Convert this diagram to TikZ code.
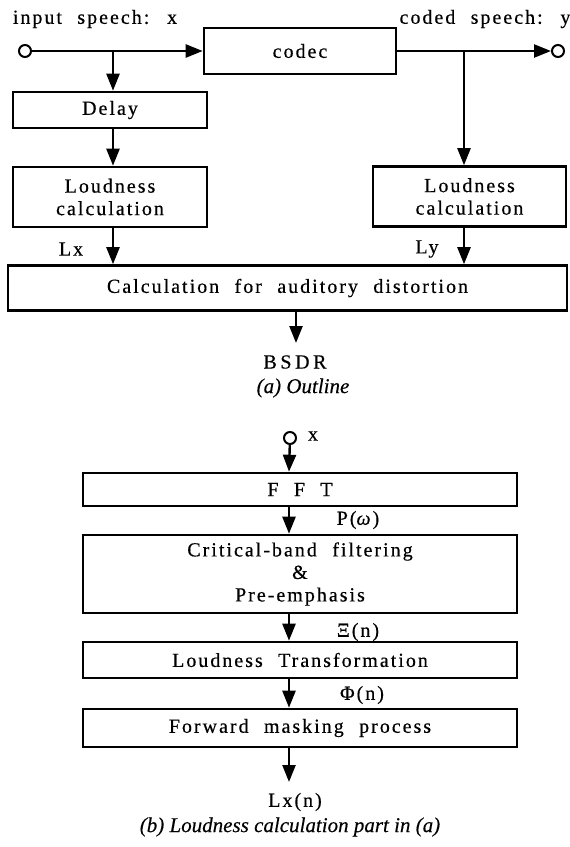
\documentclass[tikz,border=0pt]{standalone}
\usepackage{fontspec}
\setmainfont{Liberation Serif}[LetterSpace=10,WordSpace=2.2,FakeBold=0.4]
\newfontfamily\capfont{Liberation Serif}[FakeBold=0.3]
\usetikzlibrary{arrows.meta}
\begin{document}
\begin{tikzpicture}[x=1pt,y=-1pt,
  every node/.style={font=\fontsize{20}{22.5}\selectfont, inner sep=0pt},
  blk/.style={draw, line width=2.6pt, minimum width=#1, align=center},
  port/.style={draw, circle, line width=2pt, minimum size=12pt, fill=white},
  arr/.style={line width=2.4pt, -{Triangle[length=17pt,width=13pt]}},
  capstyle/.style={font=\capfont\itshape\fontsize{21}{24}\selectfont}]
\useasboundingbox (0,0) rectangle (570,847);
% ---------- (a) Outline ----------
\node[blk=192pt, minimum height=46pt] (codec) at (300,51) {codec};
\node[blk=194pt, minimum height=36pt] (delay) at (110,110) {Delay};
\node[blk=194pt, minimum height=60pt] (lcx) at (110,197) {Loudness\\calculation};
\node[blk=193pt, minimum height=60pt] (lcy) at (469.5,196.5) {Loudness\\calculation};
\node[blk=559pt, minimum height=45pt] (dist) at (287.5,288) {Calculation for auditory distortion};
\node[port] (inC) at (25,51) {};
\node[port] (outC) at (558,51) {};
\node (inlab) at (95,19) {input speech: x};
\node (outlab) at (485,19) {coded speech: y};
\node (lxlab) at (71,249) {Lx};
\node (lylab) at (427,249) {Ly};
\node[font=\addfontfeature{LetterSpace=18}\fontsize{20}{22.5}\selectfont] (bsdr) at (295,362) {BSDR};
\node[capstyle] (capa) at (303,388) {(a) Outline};
\coordinate (j1) at (113,51);
\coordinate (j2) at (464,51);
\coordinate (bsdrend) at (296,343);
\draw[arr] (inC) -- (codec);
\draw[arr] (codec) -- (outC);
\draw[arr] (j1) -- (j1 |- delay.north);
\draw[arr] (j1 |- delay.south) -- (j1 |- lcx.north);
\draw[arr] (j1 |- lcx.south) -- (j1 |- dist.north);
\draw[arr] (j2) -- (j2 |- lcy.north);
\draw[arr] (j2 |- lcy.south) -- (j2 |- dist.north);
\draw[arr] (bsdrend |- dist.south) -- (bsdrend);
% ---------- (b) Loudness calculation ----------
\node[port] (xin) at (290,438) {};
\node (xlab) at (313,436) {x};
\node[blk=434pt, minimum height=33pt] (fft) at (300,489.5) {F F T};
\node[blk=434pt, minimum height=78pt] (cbf) at (300,574) {Critical-band filtering\\\&\\Pre-emphasis};
\node[blk=434pt, minimum height=36pt] (lt) at (300,660) {Loudness Transformation};
\node[blk=434pt, minimum height=38pt] (fm) at (300,728) {Forward masking process};
\node (plab) at (358,520) {P(\textit{ω})};
\node (xilab) at (358,632) {Ξ(n)};
\node (philab) at (362,695) {Φ(n)};
\node (lxn) at (295,802) {Lx(n)};
\node[capstyle] (capb) at (290,827) {(b) Loudness calculation part in (a)};
\coordinate (k) at (289,438);
\coordinate (lxend) at (289,782);
\draw[arr] (xin) -- (k |- fft.north);
\draw[arr] (k |- fft.south) -- (k |- cbf.north);
\draw[arr] (k |- cbf.south) -- (k |- lt.north);
\draw[arr] (k |- lt.south) -- (k |- fm.north);
\draw[arr] (k |- fm.south) -- (lxend);
\end{tikzpicture}
\end{document}
